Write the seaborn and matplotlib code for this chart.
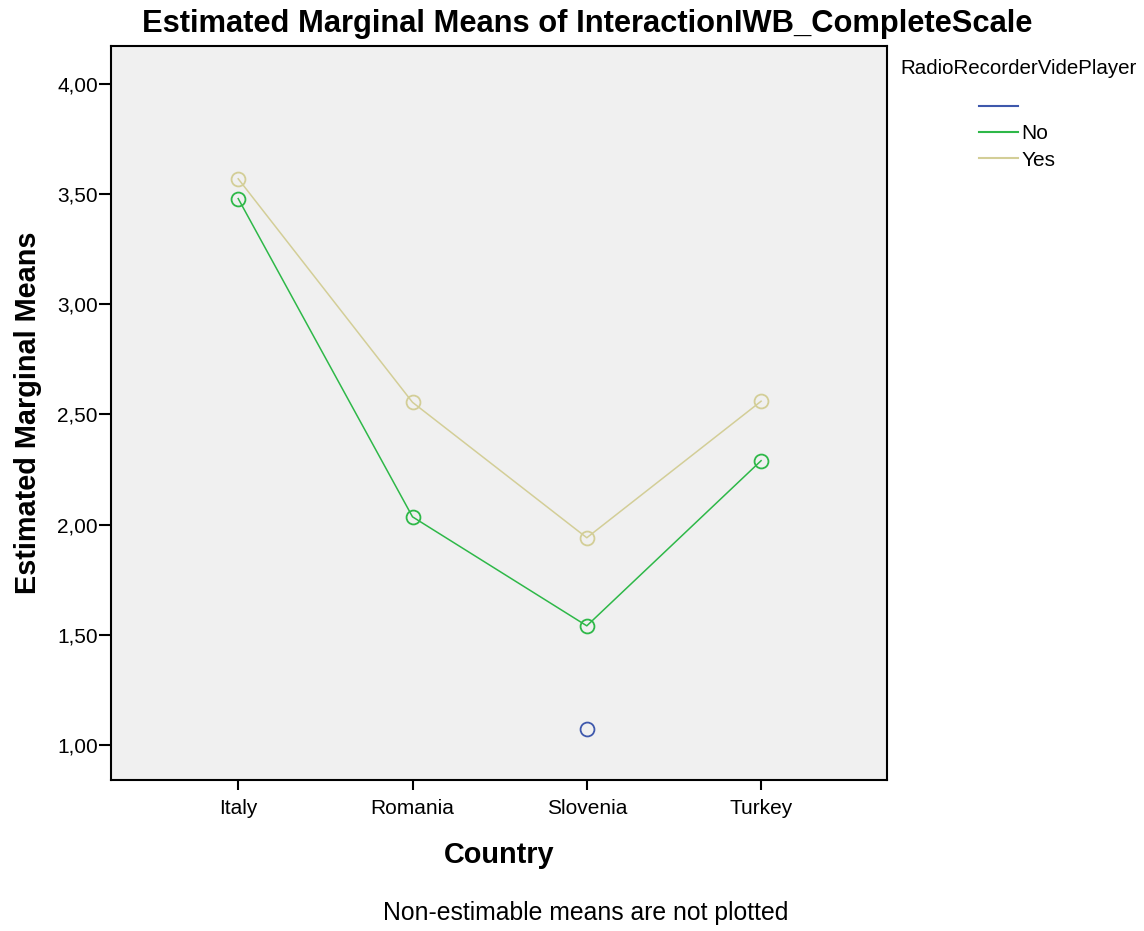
import pandas as pd
import matplotlib.pyplot as plt
import seaborn as sns
from matplotlib.lines import Line2D

countries = ['Italy', 'Romania', 'Slovenia', 'Turkey']
means_no = [3.48, 2.035, 1.54, 2.29]
means_yes = [3.57, 2.555, 1.94, 2.56]
blank_country = ['Slovenia']
means_blank = [1.07]
y_ticks = [1.0, 1.5, 2.0, 2.5, 3.0, 3.5, 4.0]
y_tick_labels = ['1,00', '1,50', '2,00', '2,50', '3,00', '3,50', '4,00']
groups = ['', 'No', 'Yes']
colors = {'': '#3E58AC', 'No': '#2EB848', 'Yes': '#D3CE97'}

df = pd.concat([
    pd.DataFrame({'Country': blank_country, 'Mean': means_blank, 'Group': ''}),
    pd.DataFrame({'Country': countries, 'Mean': means_no, 'Group': 'No'}),
    pd.DataFrame({'Country': countries, 'Mean': means_yes, 'Group': 'Yes'}),
])
df['x'] = df['Country'].map({c: i for i, c in enumerate(countries)})

plt.rcParams['font.family'] = ['Liberation Sans', 'DejaVu Sans']

fig = plt.figure(figsize=(11.44, 9.31), dpi=100)
ax = fig.add_axes([0.097, 0.1622, 0.678, 0.7884])
ax.set_facecolor('#F0F0F0')

for g in groups:
    sub = df[df['Group'] == g]
    sns.lineplot(data=sub, x='x', y='Mean', color=colors[g], ax=ax, linewidth=1.1,
                 marker='o', markersize=10, markerfacecolor='none',
                 markeredgecolor=colors[g], markeredgewidth=1.3, legend=False)

ax.set_xlim(-0.73, 3.72)
ax.set_ylim(0.84, 4.173)
ax.set_xticks(range(len(countries)))
ax.set_xticklabels(countries, fontsize=15)
ax.set_yticks(y_ticks)
ax.set_yticklabels(y_tick_labels, fontsize=15)
ax.tick_params(axis='x', length=7, width=1.5, pad=7)
ax.tick_params(axis='y', length=9, width=1.5, pad=0.5)
for s in ax.spines.values():
    s.set_linewidth(1.5)

ax.set_xlabel('Country', fontsize=20.8, fontweight='bold', labelpad=16)
ax.set_ylabel('Estimated Marginal Means', fontsize=20.8, fontweight='bold', labelpad=11)
fig.text(0.513, 0.974, 'Estimated Marginal Means of InteractionIWB_CompleteScale',
         fontsize=22.2, fontweight='bold', ha='center', va='center')

fig.text(0.787, 0.926, 'RadioRecorderVidePlayer', fontsize=14.8, va='center')
handles = [Line2D([], [], color=colors[g], linewidth=1.5) for g in groups]
fig.legend(handles, groups, loc='upper left', bbox_to_anchor=(0.847, 0.906),
           frameon=False, fontsize=15, handlelength=1.83, handletextpad=0.2,
           labelspacing=0.35, borderpad=0)

fig.text(0.512, 0.006, 'Non-estimable means are not plotted', fontsize=17.8,
         ha='center', va='bottom')

plt.savefig('out.png', dpi=100)
